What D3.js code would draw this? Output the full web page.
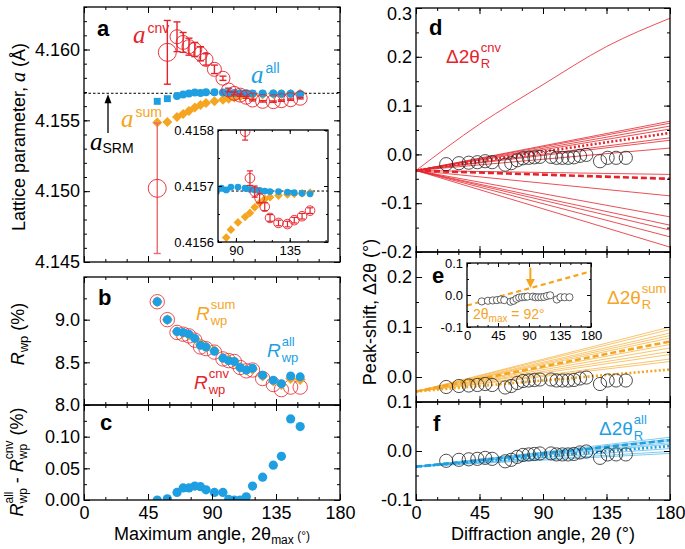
<!DOCTYPE html>
<html>
<head>
<meta charset="utf-8">
<script src="https://cdnjs.cloudflare.com/ajax/libs/d3/7.8.5/d3.min.js"></script>
<style>
  body { margin: 0; background: #fff; }
  svg { font-family: "Liberation Sans", Arial, Helvetica, sans-serif; }
</style>
</head>
<body>
<svg id="chart" width="685" height="549"></svg>
<script>
const RED = "#e5232b", BLUE = "#1e9fe2", ORANGE = "#f5a51f";

// panels a-c: refinements truncated at 2theta_max
const tmax = [51.5, 58.6, 65.4, 69.7, 73.8, 77.9, 81.9, 85.8, 91.7, 97.7, 101.7, 105.7, 109.8, 114.1, 118.5, 125.6, 133.1, 138.8, 145.3, 152.0];
const aCnv = [4.1502, 4.1598, 4.1609, 4.1605, 4.1602, 4.1600, 4.1597, 4.1593, 4.1586, 4.15797, 4.15714, 4.1569, 4.15678, 4.15663, 4.15643, 4.15634, 4.15632, 4.15639, 4.15646, 4.15656];
const aCnvErr = [0.0046, 0.00225, 0.00105, 0.0007, 0.0006, 0.0005, 0.0005, 0.0004, 0.0003, 0.00015, 0.00013, 0.0001, 0.00008, 0.00007, 0.00006, 0.00005, 0.00005, 0.00005, 0.00005, 0.00005];
const aAll = [4.15634, 4.15653, 4.15671, 4.15683, 4.15690, 4.15696, 4.15693, 4.15698, 4.15698, 4.15696, 4.15694, 4.15693, 4.15692, 4.15691, 4.15690, 4.15690, 4.15689, 4.15688, 4.15687, 4.15686];
const aSum = [4.15484, 4.15488, 4.15523, 4.15545, 4.15565, 4.15590, 4.15608, 4.15622, 4.15635, 4.15645, 4.15652, 4.15662, 4.15670, 4.15677, 4.15680, 4.15683, 4.15685, 4.15686, 4.15687, 4.15688];
const aSRM = 4.15691;

const rwpAll = [9.21, 9.00, 8.86, 8.85, 8.83, 8.78, 8.70, 8.68, 8.63, 8.55, 8.52, 8.51, 8.44, 8.41, 8.43, 8.35, 8.29, 8.25, 8.34, 8.33];
const rwpSum = [9.21, 9.00, 8.86, 8.85, 8.82, 8.78, 8.71, 8.68, 8.64, 8.55, 8.53, 8.51, 8.44, 8.41, 8.42, 8.34, 8.28, 8.24, 8.31, 8.30];
const rwpCnv = [9.21, 9.00, 8.85, 8.83, 8.81, 8.76, 8.68, 8.66, 8.62, 8.54, 8.52, 8.51, 8.44, 8.40, 8.41, 8.31, 8.24, 8.18, 8.21, 8.21];
const rwpDiff = [0.000, 0.002, 0.012, 0.019, 0.019, 0.022, 0.021, 0.016, 0.012, 0.012, 0.001, 0.000, 0.000, 0.005, 0.022, 0.036, 0.055, 0.069, 0.128, 0.116];

// panels d-f: observed peak shifts and refined shift curves
const peakPos = [21.4, 30.4, 37.4, 43.5, 49.0, 54.0, 63.2, 67.5, 71.8, 75.8, 79.9, 83.9, 87.8, 95.7, 99.6, 103.7, 107.8, 111.9, 116.2, 120.7, 130.4, 135.8, 141.8, 148.7];
const peakShift = [-0.020, -0.018, -0.017, -0.016, -0.014, -0.016, -0.021, -0.018, -0.012, -0.008, -0.007, -0.006, -0.005, -0.005, -0.007, -0.007, -0.007, -0.006, -0.003, -0.001, -0.014, -0.007, -0.007, -0.007];

const curveX = [0, 45, 90, 135, 180];
const cnvCurve = [-0.033, 0.062, 0.143, 0.221, 0.279];
const cnvStart = -0.033;
const cnvEnds = [0.068, 0.064, 0.058, 0.052, 0.034, 0.029, 0.013, -0.041, -0.085, -0.128, -0.145, -0.155, -0.169, -0.190];
const cnvDotted = 0.044, cnvDashed = -0.050;

const sumStart = -0.029;
const sumEnds = [0.100, 0.095, 0.088, 0.083, 0.078, 0.065, 0.058, 0.051, 0.045, 0.036, 0.031];
const sumDashed = 0.071, sumDotted = 0.015;

const allStart = -0.032;
const allEnds = [0.028, 0.024, 0.021, 0.017, 0.014, 0.005, -0.001, -0.005];
const allDashed = 0.022, allDotted = 0.010;

const insetLineX = [0, 180], insetLineY = [-0.033, 0.074];
const insetMark = 92;

const svg = d3.select("#chart");

const xL = d3.scaleLinear().domain([0, 180]).range([84, 340]);
const xR = d3.scaleLinear().domain([0, 180]).range([416, 670]);
const yA = d3.scaleLinear().domain([4.145, 4.163]).range([262, 7]);
const yB = d3.scaleLinear().domain([8.0, 9.5]).range([405, 277]);
const yC = d3.scaleLinear().domain([0, 0.15]).range([500, 405]);
const yD = d3.scaleLinear().domain([-0.2, 0.3]).range([252, 8]);
const yE = d3.scaleLinear().domain([-0.05, 0.25]).range([402, 252]);
const yF = d3.scaleLinear().domain([-0.1, 0.1]).range([500, 402]);
const xIA = d3.scaleLinear().domain([75, 167]).range([218, 328]);
const yIA = d3.scaleLinear().domain([0.4156, 0.4158]).range([242, 130]);
const xIE = d3.scaleLinear().domain([0, 180]).range([467, 591]);
const yIE = d3.scaleLinear().domain([-0.1, 0.1]).range([327, 263]);

const steps = (a, b, s) => d3.range(0, Math.round((b - a) / s) + 1).map(i => a + i * s);
const fmt = p => v => d3.format(p)(v).replace("\u2212", "-");
const none = () => "";

function clip(id, x, y, bg) {
  const [x0, x1] = x.range(), [y1, y0] = y.range();
  svg.append("clipPath").attr("id", id).append("rect")
    .attr("x", x0).attr("y", y0).attr("width", x1 - x0).attr("height", y1 - y0);
  if (bg) svg.append("rect").attr("x", x0).attr("y", y0).attr("width", x1 - x0).attr("height", y1 - y0).attr("fill", "#fff");
  return svg.append("g").attr("clip-path", `url(#${id})`);
}

function frame(x, y, o) {
  const g = svg.append("g");
  const [x0, x1] = x.range(), [y1, y0] = y.range();
  const fs = o.fs || 18, maj = o.maj || 6, mn = o.mn || 3;
  const put = (axis, tr) => g.append("g").attr("transform", tr).call(axis).call(s => {
    s.select(".domain").remove();
    s.selectAll(".tick line").attr("stroke", "#000").attr("stroke-width", 1);
    s.selectAll(".tick text").attr("fill", "#000").style("font-size", fs + "px");
  });
  put(d3.axisBottom(x).tickValues(o.xMin).tickSize(-mn).tickFormat(none), `translate(0,${y1})`);
  put(d3.axisBottom(x).tickValues(o.xMaj).tickSize(-maj).tickPadding(o.xPad || 6).tickFormat(o.xLab ? d3.format("d") : none), `translate(0,${y1})`);
  put(d3.axisTop(x).tickValues(o.xMin).tickSize(-mn).tickFormat(none), `translate(0,${y0})`);
  put(d3.axisTop(x).tickValues(o.xMaj).tickSize(-maj).tickFormat(none), `translate(0,${y0})`);
  put(d3.axisLeft(y).tickValues(o.yMin).tickSize(-mn).tickFormat(none), `translate(${x0},0)`);
  const left = put(d3.axisLeft(y).tickValues(o.yMaj).tickSize(-maj).tickPadding(o.yPad || 4).tickFormat(o.yFmt || none), `translate(${x0},0)`);
  // keep a label that sits on the top edge inside the picture
  if (o.nudgeTop) left.selectAll(".tick text").filter(v => v === o.yMaj[o.yMaj.length - 1]).attr("dy", "0.62em");
  put(d3.axisRight(y).tickValues(o.yMin).tickSize(-mn).tickFormat(none), `translate(${x1},0)`);
  put(d3.axisRight(y).tickValues(o.yMaj).tickSize(-maj).tickFormat(none), `translate(${x1},0)`);
  g.append("rect").attr("x", x0).attr("y", y0).attr("width", x1 - x0).attr("height", y1 - y0)
    .attr("fill", "none").attr("stroke", "#000").attr("stroke-width", 1.3);
  return g;
}

// text with sub/superscripts; "back" puts a superscript over the previous subscript
function rich(x, y, segs, o = {}) {
  const fs = o.size || 17;
  const t = svg.append("text").attr("fill", o.color || "#000").style("font-size", fs + "px");
  let cur = 0, lastW = 0, pend = 0;
  segs.forEach(s => {
    const seg = typeof s === "string" ? { t: s } : s;
    const sp = t.append("tspan").text(seg.t).style("font-size", (seg.size || fs) + "px");
    const off = seg.off || 0;
    if (off !== cur) sp.attr("dy", off - cur);
    cur = off;
    const dx = seg.back ? -lastW : pend + (seg.dx || 0);
    if (dx) sp.attr("dx", dx);
    if (seg.it) sp.style("font-style", "italic");
    if (seg.serif) sp.style("font-family", "'Liberation Serif', 'Times New Roman', serif");
    const w = sp.node().getComputedTextLength();
    if (seg.back) pend = Math.max(0, lastW - w); else { pend = 0; lastW = w; }
  });
  const w = t.node().getBBox().width;
  t.attr("x", o.anchor === "middle" ? x - w / 2 : x).attr("y", y);
  if (o.rot) t.attr("transform", `rotate(-90,${x},${y})`);
  return t;
}

const diamond = d3.symbol(d3.symbolSquare, 50)();
const diamondB = d3.symbol(d3.symbolSquare, 60)();
const idx = d3.range(tmax.length);

// ---------- panel a ----------
const gA = clip("cA", xL, yA);
gA.append("line").attr("x1", xL(0)).attr("x2", xL(180)).attr("y1", yA(aSRM)).attr("y2", yA(aSRM))
  .attr("stroke", "#000").attr("stroke-width", 1).attr("stroke-dasharray", "2.5,2");
gA.selectAll(".sum").data(idx).join("path")
  .attr("d", diamond).attr("fill", ORANGE)
  .attr("transform", i => `translate(${xL(tmax[i])},${yA(aSum[i])}) rotate(45)`);
gA.selectAll(".all").data(idx).join("path")
  .attr("d", i => i < 2 ? d3.symbol(d3.symbolSquare, 48)() : d3.symbol(d3.symbolCircle, 50)())
  .attr("fill", BLUE)
  .attr("transform", i => `translate(${xL(tmax[i])},${yA(aAll[i])})`);
const eb = gA.selectAll(".eb").data(idx).join("g").attr("stroke", i => i === 0 ? "#ec6a70" : RED).attr("stroke-width", 1.4);
eb.append("line").attr("x1", i => xL(tmax[i])).attr("x2", i => xL(tmax[i]))
  .attr("y1", i => yA(aCnv[i] - aCnvErr[i])).attr("y2", i => yA(aCnv[i] + aCnvErr[i]));
[-1, 1].forEach(sg => eb.append("line")
  .attr("x1", i => xL(tmax[i]) - 3.5).attr("x2", i => xL(tmax[i]) + 3.5)
  .attr("y1", i => yA(aCnv[i] + sg * aCnvErr[i])).attr("y2", i => yA(aCnv[i] + sg * aCnvErr[i])));
gA.selectAll(".cnv").data(idx).join("circle")
  .attr("cx", i => xL(tmax[i])).attr("cy", i => yA(aCnv[i])).attr("r", i => i < 2 ? 9 : 7)
  .attr("fill", "none").attr("stroke", RED).attr("stroke-width", 0.9);
frame(xL, yA, { xMaj: [0, 45, 90, 135, 180], xMin: steps(0, 180, 15), yMaj: [4.145, 4.150, 4.155, 4.160], yMin: steps(4.145, 4.163, 0.001), yFmt: fmt(".3f") });

// arrow to a_SRM
svg.append("line").attr("x1", 108).attr("x2", 108).attr("y1", 133).attr("y2", yA(aSRM) + 8).attr("stroke", "#000").attr("stroke-width", 1.3);
svg.append("path").attr("d", `M108,${yA(aSRM) + 1}L104.5,${yA(aSRM) + 10}L111.5,${yA(aSRM) + 10}Z`).attr("fill", "#000");

// inset of a (nm)
const gIA = clip("cIA", xIA, yIA, true);
gIA.append("line").attr("x1", xIA(75)).attr("x2", xIA(167)).attr("y1", yIA(aSRM / 10)).attr("y2", yIA(aSRM / 10))
  .attr("stroke", "#000").attr("stroke-width", 1).attr("stroke-dasharray", "2.5,2");
gIA.selectAll(".sum").data(idx).join("path")
  .attr("d", d3.symbol(d3.symbolSquare, 38)()).attr("fill", ORANGE)
  .attr("transform", i => `translate(${xIA(tmax[i])},${yIA(aSum[i] / 10)}) rotate(45)`);
gIA.selectAll(".all").data(idx).join("circle")
  .attr("cx", i => xIA(tmax[i])).attr("cy", i => yIA(aAll[i] / 10)).attr("r", 3.4).attr("fill", BLUE);
const ebI = gIA.selectAll(".eb").data(idx).join("g").attr("stroke", RED).attr("stroke-width", 1.2);
ebI.append("line").attr("x1", i => xIA(tmax[i])).attr("x2", i => xIA(tmax[i]))
  .attr("y1", i => yIA((aCnv[i] - aCnvErr[i]) / 10)).attr("y2", i => yIA((aCnv[i] + aCnvErr[i]) / 10));
[-1, 1].forEach(sg => ebI.append("line")
  .attr("x1", i => xIA(tmax[i]) - 3).attr("x2", i => xIA(tmax[i]) + 3)
  .attr("y1", i => yIA((aCnv[i] + sg * aCnvErr[i]) / 10)).attr("y2", i => yIA((aCnv[i] + sg * aCnvErr[i]) / 10)));
gIA.selectAll(".cnv").data(idx).join("circle")
  .attr("cx", i => xIA(tmax[i])).attr("cy", i => yIA(aCnv[i] / 10)).attr("r", 4.8)
  .attr("fill", "none").attr("stroke", RED).attr("stroke-width", 0.9);
frame(xIA, yIA, { fs: 13, maj: 4, mn: 2, xPad: 4, yPad: 4, xLab: true, xMaj: [90, 135], xMin: steps(75, 165, 15),
  yMaj: [0.4156, 0.4157, 0.4158], yMin: steps(0.4156, 0.4158, 0.00005), yFmt: fmt(".4f") });

// ---------- panel b ----------
const gB = clip("cB", xL, yB);
gB.selectAll(".cnv").data(idx).join("circle")
  .attr("cx", i => xL(tmax[i])).attr("cy", i => yB(rwpCnv[i])).attr("r", 7.2)
  .attr("fill", "none").attr("stroke", RED).attr("stroke-width", 0.8);
gB.selectAll(".sum").data(idx).join("path")
  .attr("d", diamondB).attr("fill", ORANGE)
  .attr("transform", i => `translate(${xL(tmax[i])},${yB(rwpSum[i])}) rotate(45)`);
gB.selectAll(".all").data(idx).join("circle")
  .attr("cx", i => xL(tmax[i])).attr("cy", i => yB(rwpAll[i])).attr("r", 4.5).attr("fill", BLUE);
frame(xL, yB, { xMaj: [0, 45, 90, 135, 180], xMin: steps(0, 180, 15), yMaj: [8.0, 8.5, 9.0], yMin: steps(8.0, 9.5, 0.25), yFmt: fmt(".1f") });

// ---------- panel c ----------
const gC = clip("cC", xL, yC);
gC.selectAll(".d").data(idx).join("circle")
  .attr("cx", i => xL(tmax[i])).attr("cy", i => yC(rwpDiff[i])).attr("r", 4.6).attr("fill", BLUE);
frame(xL, yC, { xLab: true, xMaj: [0, 45, 90, 135, 180], xMin: steps(0, 180, 15), yMaj: [0, 0.05, 0.10], yMin: steps(0, 0.15, 0.025), yFmt: fmt(".2f") });

// ---------- right panels ----------
const pk = d3.range(peakPos.length);
function fan(g, y, start, ends, color, w) {
  const ln = d3.line().x(d => xR(d[0])).y(d => y(d[1]));
  g.selectAll(null).data(ends).join("path")
    .attr("d", e => ln([[0, start], [180, e]]))
    .attr("fill", "none").attr("stroke", color).attr("stroke-width", w);
}
function thick(g, y, start, end, color, dash) {
  const ln = d3.line().x(d => xR(d[0])).y(d => y(d[1]));
  g.append("path").attr("d", ln([[0, start], [180, end]])).attr("fill", "none")
    .attr("stroke", color).attr("stroke-width", 2.6).attr("stroke-dasharray", dash);
}
function peaks(g, y) {
  g.selectAll(".pk").data(pk).join("circle")
    .attr("cx", i => xR(peakPos[i])).attr("cy", i => y(peakShift[i])).attr("r", 6.6)
    .attr("fill", "none").attr("stroke", "#222").attr("stroke-width", 0.8);
}

// d
const gD = clip("cD", xR, yD);
gD.append("path").attr("d", d3.line().curve(d3.curveMonotoneX).x((d, i) => xR(curveX[i])).y(d => yD(d))(cnvCurve))
  .attr("fill", "none").attr("stroke", RED).attr("stroke-width", 0.8);
fan(gD, yD, cnvStart, cnvEnds, RED, 0.8);
thick(gD, yD, cnvStart, cnvDotted, RED, "2,2.2");
thick(gD, yD, cnvStart, cnvDashed, RED, "6,3");
peaks(gD, yD);
frame(xR, yD, { nudgeTop: true, xMaj: [0, 45, 90, 135, 180], xMin: steps(0, 180, 15), yMaj: [-0.2, -0.1, 0, 0.1, 0.2, 0.3], yMin: steps(-0.2, 0.3, 0.05), yFmt: fmt(".1f") });

// e
const gE = clip("cE", xR, yE);
fan(gE, yE, sumStart, sumEnds, "#f7b64a", 0.8);
thick(gE, yE, sumStart, sumDashed, ORANGE, "6,3");
thick(gE, yE, sumStart, sumDotted, ORANGE, "2,2.2");
peaks(gE, yE);
frame(xR, yE, { xMaj: [0, 45, 90, 135, 180], xMin: steps(0, 180, 15), yMaj: [0, 0.1, 0.2], yMin: steps(-0.05, 0.25, 0.05), yFmt: fmt(".1f") });

// inset of e
const gIE = clip("cIE", xIE, yIE, true);
gIE.append("path").attr("d", d3.line().x((d, i) => xIE(insetLineX[i])).y(d => yIE(d))(insetLineY))
  .attr("fill", "none").attr("stroke", ORANGE).attr("stroke-width", 2.2).attr("stroke-dasharray", "5,3.5");
gIE.selectAll(".pk").data(pk).join("circle")
  .attr("cx", i => xIE(peakPos[i])).attr("cy", i => yIE(peakShift[i])).attr("r", 3.6)
  .attr("fill", "#fff").attr("stroke", "#222").attr("stroke-width", 0.7);
gIE.append("line").attr("x1", xIE(insetMark)).attr("x2", xIE(insetMark)).attr("y1", yIE(0.086)).attr("y2", yIE(0.045))
  .attr("stroke", ORANGE).attr("stroke-width", 2);
gIE.append("path").attr("fill", ORANGE)
  .attr("d", `M${xIE(insetMark)},${yIE(0.022)}L${xIE(insetMark) - 4.5},${yIE(0.05)}L${xIE(insetMark) + 4.5},${yIE(0.05)}Z`);
frame(xIE, yIE, { fs: 13, maj: 4, mn: 2, xPad: 4, yPad: 4, xLab: true, xMaj: [0, 45, 90, 135, 180], xMin: steps(0, 180, 15),
  yMaj: [-0.1, 0, 0.1], yMin: steps(-0.1, 0.1, 0.05), yFmt: fmt(".1f") });
rich(473, 319, ["2\u03b8", { t: "max", off: 3, size: 10 }, { t: " = 92\u00b0", off: 0 }], { color: ORANGE, size: 14 });

// f
const gF = clip("cF", xR, yF);
fan(gF, yF, allStart, allEnds, "#62bcea", 0.8);
thick(gF, yF, allStart, allDashed, BLUE, "6,3");
thick(gF, yF, allStart, allDotted, BLUE, "2,2.2");
peaks(gF, yF);
frame(xR, yF, { xLab: true, xMaj: [0, 45, 90, 135, 180], xMin: steps(0, 180, 15), yMaj: [-0.1, 0, 0.1], yMin: steps(-0.1, 0.1, 0.05), yFmt: fmt(".1f") });

// ---------- labels ----------
[["a", 97, 36], ["b", 98, 305], ["c", 100, 430], ["d", 429, 35], ["e", 432, 283], ["f", 433, 431]].forEach(([t, x, y]) =>
  svg.append("text").attr("x", x).attr("y", y).style("font-size", "22px").style("font-weight", "bold").text(t));

const serifA = { t: "a", it: 1, serif: 1, size: 25 };
rich(133, 43, [serifA, { t: "cnv", off: -10, size: 14, dx: 2 }], { color: RED });
rich(251, 83, [serifA, { t: "all", off: -10, size: 14, dx: 2 }], { color: BLUE });
rich(121, 127, [serifA, { t: "sum", off: -10, size: 14, dx: 2 }], { color: ORANGE });
rich(90, 150, [serifA, { t: "SRM", off: 3, size: 14 }], { color: "#000" });

const R = { t: "R", it: 1, size: 19 };
rich(196, 320, [R, { t: "wp", off: 5, size: 13, dx: 1 }, { t: "sum", off: -11, size: 13, back: 1 }], { color: ORANGE });
rich(267, 357, [R, { t: "wp", off: 5, size: 13, dx: 1 }, { t: "all", off: -11, size: 13, back: 1 }], { color: BLUE });
rich(194, 389, [R, { t: "wp", off: 5, size: 13, dx: 1 }, { t: "cnv", off: -11, size: 13, back: 1 }], { color: RED });

rich(446, 63, ["\u03942\u03b8", { t: "R", off: 5, size: 13, dx: 1 }, { t: "cnv", off: -11, size: 13, back: 1 }], { color: RED, size: 19 });
rich(607, 304, ["\u03942\u03b8", { t: "R", off: 5, size: 13, dx: 1 }, { t: "sum", off: -11, size: 13, back: 1 }], { color: ORANGE, size: 19 });
rich(599, 435, ["\u03942\u03b8", { t: "R", off: 5, size: 13, dx: 1 }, { t: "all", off: -11, size: 13, back: 1 }], { color: BLUE, size: 19 });

// axis titles
rich(25, 137, ["Lattice parameter, ", { t: "a", it: 1, serif: 1, size: 20 }, " (\u00c5)"], { rot: 1, anchor: "middle", size: 18 });
rich(24, 334, [{ t: "R", it: 1 }, { t: "wp", off: 4, size: 13 }, { t: " (%)", off: 0 }], { rot: 1, anchor: "middle", size: 18 });
rich(23, 462, [{ t: "R", it: 1 }, { t: "wp", off: 4, size: 12 }, { t: "all", off: -10, size: 12, back: 1 },
  { t: " - ", off: 0 }, { t: "R", it: 1 }, { t: "wp", off: 4, size: 12 }, { t: "cnv", off: -10, size: 12, back: 1 },
  { t: " (%)", off: 0 }], { rot: 1, anchor: "middle", size: 18 });
rich(376, 312, ["Peak-shift, \u03942\u03b8 (\u00b0)"], { rot: 1, anchor: "middle", size: 18 });
rich(212, 540, ["Maximum angle, 2\u03b8", { t: "max", off: 4, size: 12 }, { t: " (\u00b0)", off: 0, size: 12 }], { anchor: "middle", size: 18 });
rich(543, 540, ["Diffraction angle, 2\u03b8 (\u00b0)"], { anchor: "middle", size: 18 });
</script>
</body>
</html>
